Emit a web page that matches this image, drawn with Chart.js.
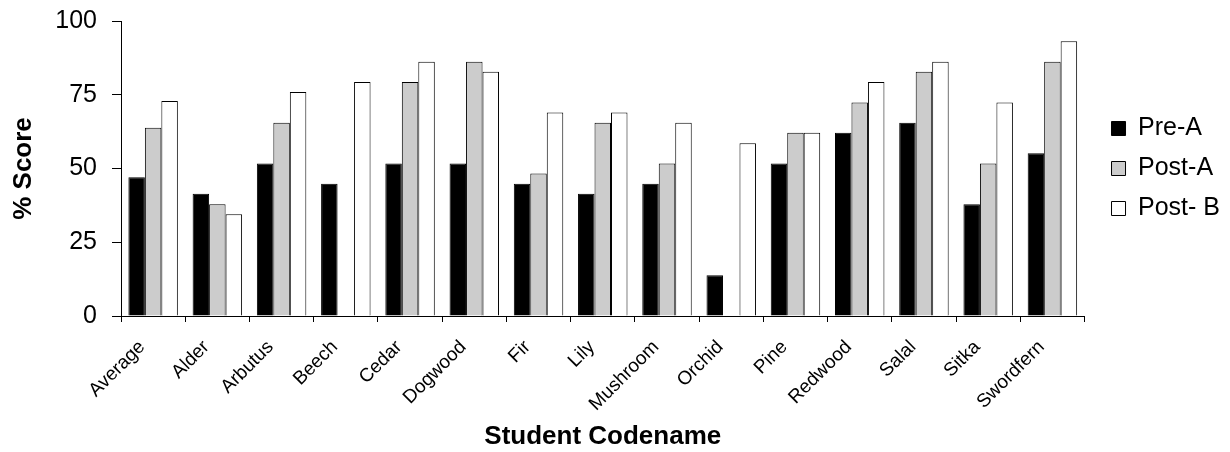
<!DOCTYPE html>
<html>
<head>
<meta charset="utf-8">
<title>% Score by Student Codename</title>
<script src="https://cdn.jsdelivr.net/npm/chart.js@4.4.1/dist/chart.umd.min.js"></script>
<style>
  html, body { margin: 0; padding: 0; background: #fff; }
  canvas { display: block; }
</style>
</head>
<body>
<canvas id="scoreChart" width="1230" height="452"></canvas>
<script>
// Chart data
const students = ['Average', 'Alder', 'Arbutus', 'Beech', 'Cedar', 'Dogwood', 'Fir', 'Lily',
    'Mushroom', 'Orchid', 'Pine', 'Redwood', 'Salal', 'Sitka', 'Swordfern'];
const preA  = [47.0, 41.4, 51.7, 44.8, 51.7, 51.7, 44.8, 41.4, 44.8, 13.8, 51.7, 62.1, 65.5, 37.9, 55.2];
const postA = [63.8, 37.9, 65.5, 0,    79.3, 86.2, 48.3, 65.5, 51.7, 0,    62.1, 72.4, 82.8, 51.7, 86.2];
const postB = [72.9, 34.5, 75.9, 79.3, 86.2, 82.8, 69.0, 69.0, 65.5, 58.6, 62.1, 79.3, 86.2, 72.4, 93.1];
const yTicks = [0, 25, 50, 75, 100];

const FONT = "'Liberation Sans', Arial, sans-serif";
Chart.defaults.color = '#000';
Chart.defaults.font.family = FONT;

// push the legend a bit away from the plot, keeping its boxes in place
const LEGEND_GAP = 12;
const legendGap = {
    id: 'legendGap',
    afterInit(chart) {
        const lg = chart.legend;
        const fit = lg.fit;
        lg.fit = function() {
            fit.call(this);
            this.width += LEGEND_GAP;
        };
    },
    afterLayout(chart) {
        chart.legend.left += LEGEND_GAP;
    }
};

new Chart(document.getElementById('scoreChart'), {
    type: 'bar',
    data: {
        labels: students,
        datasets: [
            { label: 'Pre-A', data: preA, backgroundColor: '#000000' },
            { label: 'Post-A', data: postA, backgroundColor: '#cccccc' },
            { label: 'Post- B', data: postB, backgroundColor: '#ffffff' }
        ]
    },
    options: {
        responsive: false,
        animation: false,
        layout: { padding: { top: 0, left: 8, right: 0, bottom: 0 } },
        datasets: {
            bar: {
                borderColor: '#000',
                borderWidth: 1,
                categoryPercentage: 0.77,
                barPercentage: 1.0
            }
        },
        plugins: {
            tooltip: { enabled: false },
            legend: {
                position: 'right',
                fullSize: false,
                labels: {
                    boxWidth: 14,
                    boxHeight: 14,
                    padding: 15,
                    font: { size: 25 }
                }
            }
        },
        scales: {
            x: {
                afterFit: axis => { axis.height = 136; },
                grid: { drawOnChartArea: false, drawTicks: true, tickLength: 6, color: '#000' },
                border: { color: '#000', width: 1 },
                ticks: {
                    autoSkip: false,
                    minRotation: 45,
                    maxRotation: 45,
                    padding: 14,
                    labelOffset: -11,
                    font: { size: 19 }
                },
                title: {
                    display: true,
                    text: 'Student Codename',
                    font: { size: 26, weight: 'bold' },
                    padding: { top: 0, bottom: 0 }
                }
            },
            y: {
                min: 0,
                max: 100,
                afterBuildTicks: axis => { axis.ticks = yTicks.map(v => ({ value: v })); },
                afterFit: axis => { axis.width = 113; },
                grid: { drawOnChartArea: false, drawTicks: true, tickLength: 9, color: '#000' },
                border: { color: '#000', width: 1 },
                ticks: { padding: 15, font: { size: 25, lineHeight: 0.48 } },
                title: {
                    display: true,
                    text: '% Score',
                    font: { size: 26, weight: 'bold' },
                    padding: { top: 0, bottom: 2 }
                }
            }
        }
    },
    plugins: [legendGap]
});
</script>
</body>
</html>
